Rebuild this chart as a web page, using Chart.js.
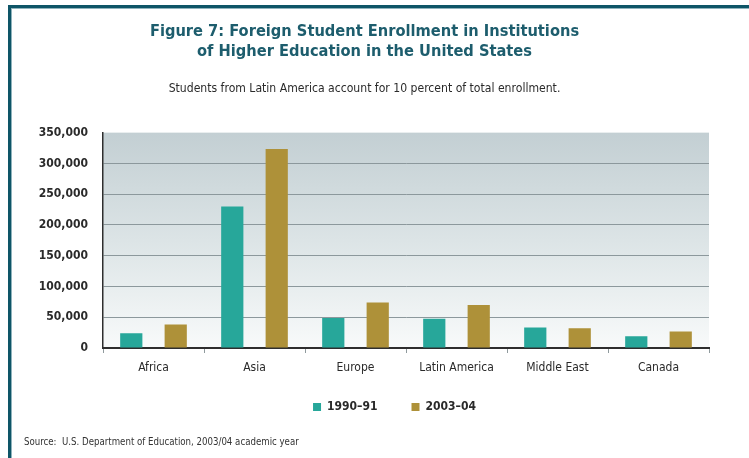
<!DOCTYPE html>
<html>
<head>
<meta charset="utf-8">
<script src="https://cdn.jsdelivr.net/npm/chart.js@4.4.1/dist/chart.umd.min.js"></script>
<style>
  html, body { margin: 0; padding: 0; background: #ffffff; }
  #wrap { width: 749px; height: 458px; position: relative; }
</style>
</head>
<body>
<div id="wrap"><canvas id="enrollChart" width="749" height="458"></canvas></div>
<script>
// regions of origin and enrollment counts for the two academic years
const regions = ["Africa", "Asia", "Europe", "Latin America", "Middle East", "Canada"];
const enroll1990 = [23800, 229800, 48600, 47600, 33400, 19000];
const enroll2003 = [38200, 323500, 74100, 69700, 31900, 27000];
const seriesNames = ["1990\u201391", "2003\u201304"];
const yTicks = [0, 50000, 100000, 150000, 200000, 250000, 300000, 350000];

const narrow = "'DejaVu Sans Condensed', 'Liberation Sans Narrow', 'DejaVu Sans', sans-serif";

// frame, plot background gradient and source line
const decorations = {
    id: "decorations",
    afterLayout(chart) {
        // nudge the legend so it sits a bit right of the canvas centre and closer to the axis
        const lg = chart.legend;
        lg.left += 30; lg.right += 30;
        lg.top -= 8; lg.bottom -= 8;
    },
    beforeDraw(chart) {
        const ctx = chart.ctx;
        const a = chart.chartArea;
        ctx.save();
        let grad = ctx.createLinearGradient(0, a.top, 0, a.bottom);
        grad.addColorStop(0, "#c3cfd3");
        grad.addColorStop(0.5, "#dce4e6");
        grad.addColorStop(1, "#f8fafa");
        ctx.fillStyle = grad;
        ctx.fillRect(a.left, a.top, a.right - a.left, a.bottom - a.top);
        ctx.restore();
    },
    afterDraw(chart) {
        const ctx = chart.ctx;
        ctx.save();
        ctx.fillStyle = "#0e5567";
        ctx.fillRect(8, 5, 741, 3);
        ctx.fillRect(8, 5, 3, 453);
        ctx.fillStyle = "#8fb3bc";
        ctx.fillRect(11, 8, 738, 1);
        ctx.fillRect(11, 8, 1, 450);
        ctx.fillStyle = "#333333";
        ctx.font = "9.6px " + narrow;
        ctx.textBaseline = "middle";
        ctx.fillText("Source:  U.S. Department of Education, 2003/04 academic year", 24, 442);
        ctx.restore();
    }
};

const ctx = document.getElementById("enrollChart").getContext("2d");
const chart = new Chart(ctx, {
    type: "bar",
    data: {
        labels: regions,
        datasets: [{
            label: seriesNames[0],
            data: enroll1990,
            backgroundColor: "#27a79a",
            categoryPercentage: 0.88,
            barPercentage: 0.5
        }, {
            label: seriesNames[1],
            data: enroll2003,
            backgroundColor: "#ae9139",
            categoryPercentage: 0.88,
            barPercentage: 0.5
        }]
    },
    plugins: [decorations],
    options: {
        responsive: false,
        animation: false,
        layout: {
            padding: { left: 20, right: 40, top: 0, bottom: 27 }
        },
        plugins: {
            title: {
                display: true,
                text: ["Figure 7: Foreign Student Enrollment in Institutions", "of Higher Education in the United States"],
                color: "#1d5d6d",
                font: { family: narrow, size: 16.3, weight: "bold", lineHeight: 1.2 },
                padding: { top: 22, bottom: 20 }
            },
            subtitle: {
                display: true,
                text: "Students from Latin America account for 10 percent of total enrollment.",
                color: "#2a2a2a",
                font: { family: narrow, size: 12.1, lineHeight: 1.2 },
                padding: { top: 0, bottom: 37 }
            },
            legend: {
                position: "bottom",
                labels: {
                    boxWidth: 8,
                    boxHeight: 8,
                    padding: 34,
                    color: "#2a2a2a",
                    font: { family: narrow, size: 12, weight: "bold" }
                }
            },
            tooltip: { enabled: false }
        },
        scales: {
            x: {
                offset: true,
                afterFit(scale) { scale.height = 27; },
                grid: {
                    offset: true,
                    drawOnChartArea: false,
                    drawTicks: true,
                    tickLength: 5,
                    color: "#8f9a9d"
                },
                border: { color: "#2e2e2e", width: 2 },
                ticks: {
                    padding: 8,
                    color: "#2a2a2a",
                    font: { family: narrow, size: 12 }
                }
            },
            y: {
                min: 0,
                max: 350000,
                afterFit(scale) { scale.width = 83; },
                afterBuildTicks(scale) { scale.ticks = yTicks.map(v => ({ value: v })); },
                grid: {
                    drawTicks: false,
                    lineWidth: 1,
                    color: c => (c.tick && c.tick.value === 350000) ? "rgba(0,0,0,0)" : "#8c989c"
                },
                border: { color: "#2e2e2e", width: 1.5 },
                ticks: {
                    padding: 15,
                    color: "#2a2a2a",
                    font: { family: narrow, size: 12, weight: "bold" },
                    callback: v => v.toLocaleString("en-US")
                }
            }
        }
    }
});
</script>
</body>
</html>
